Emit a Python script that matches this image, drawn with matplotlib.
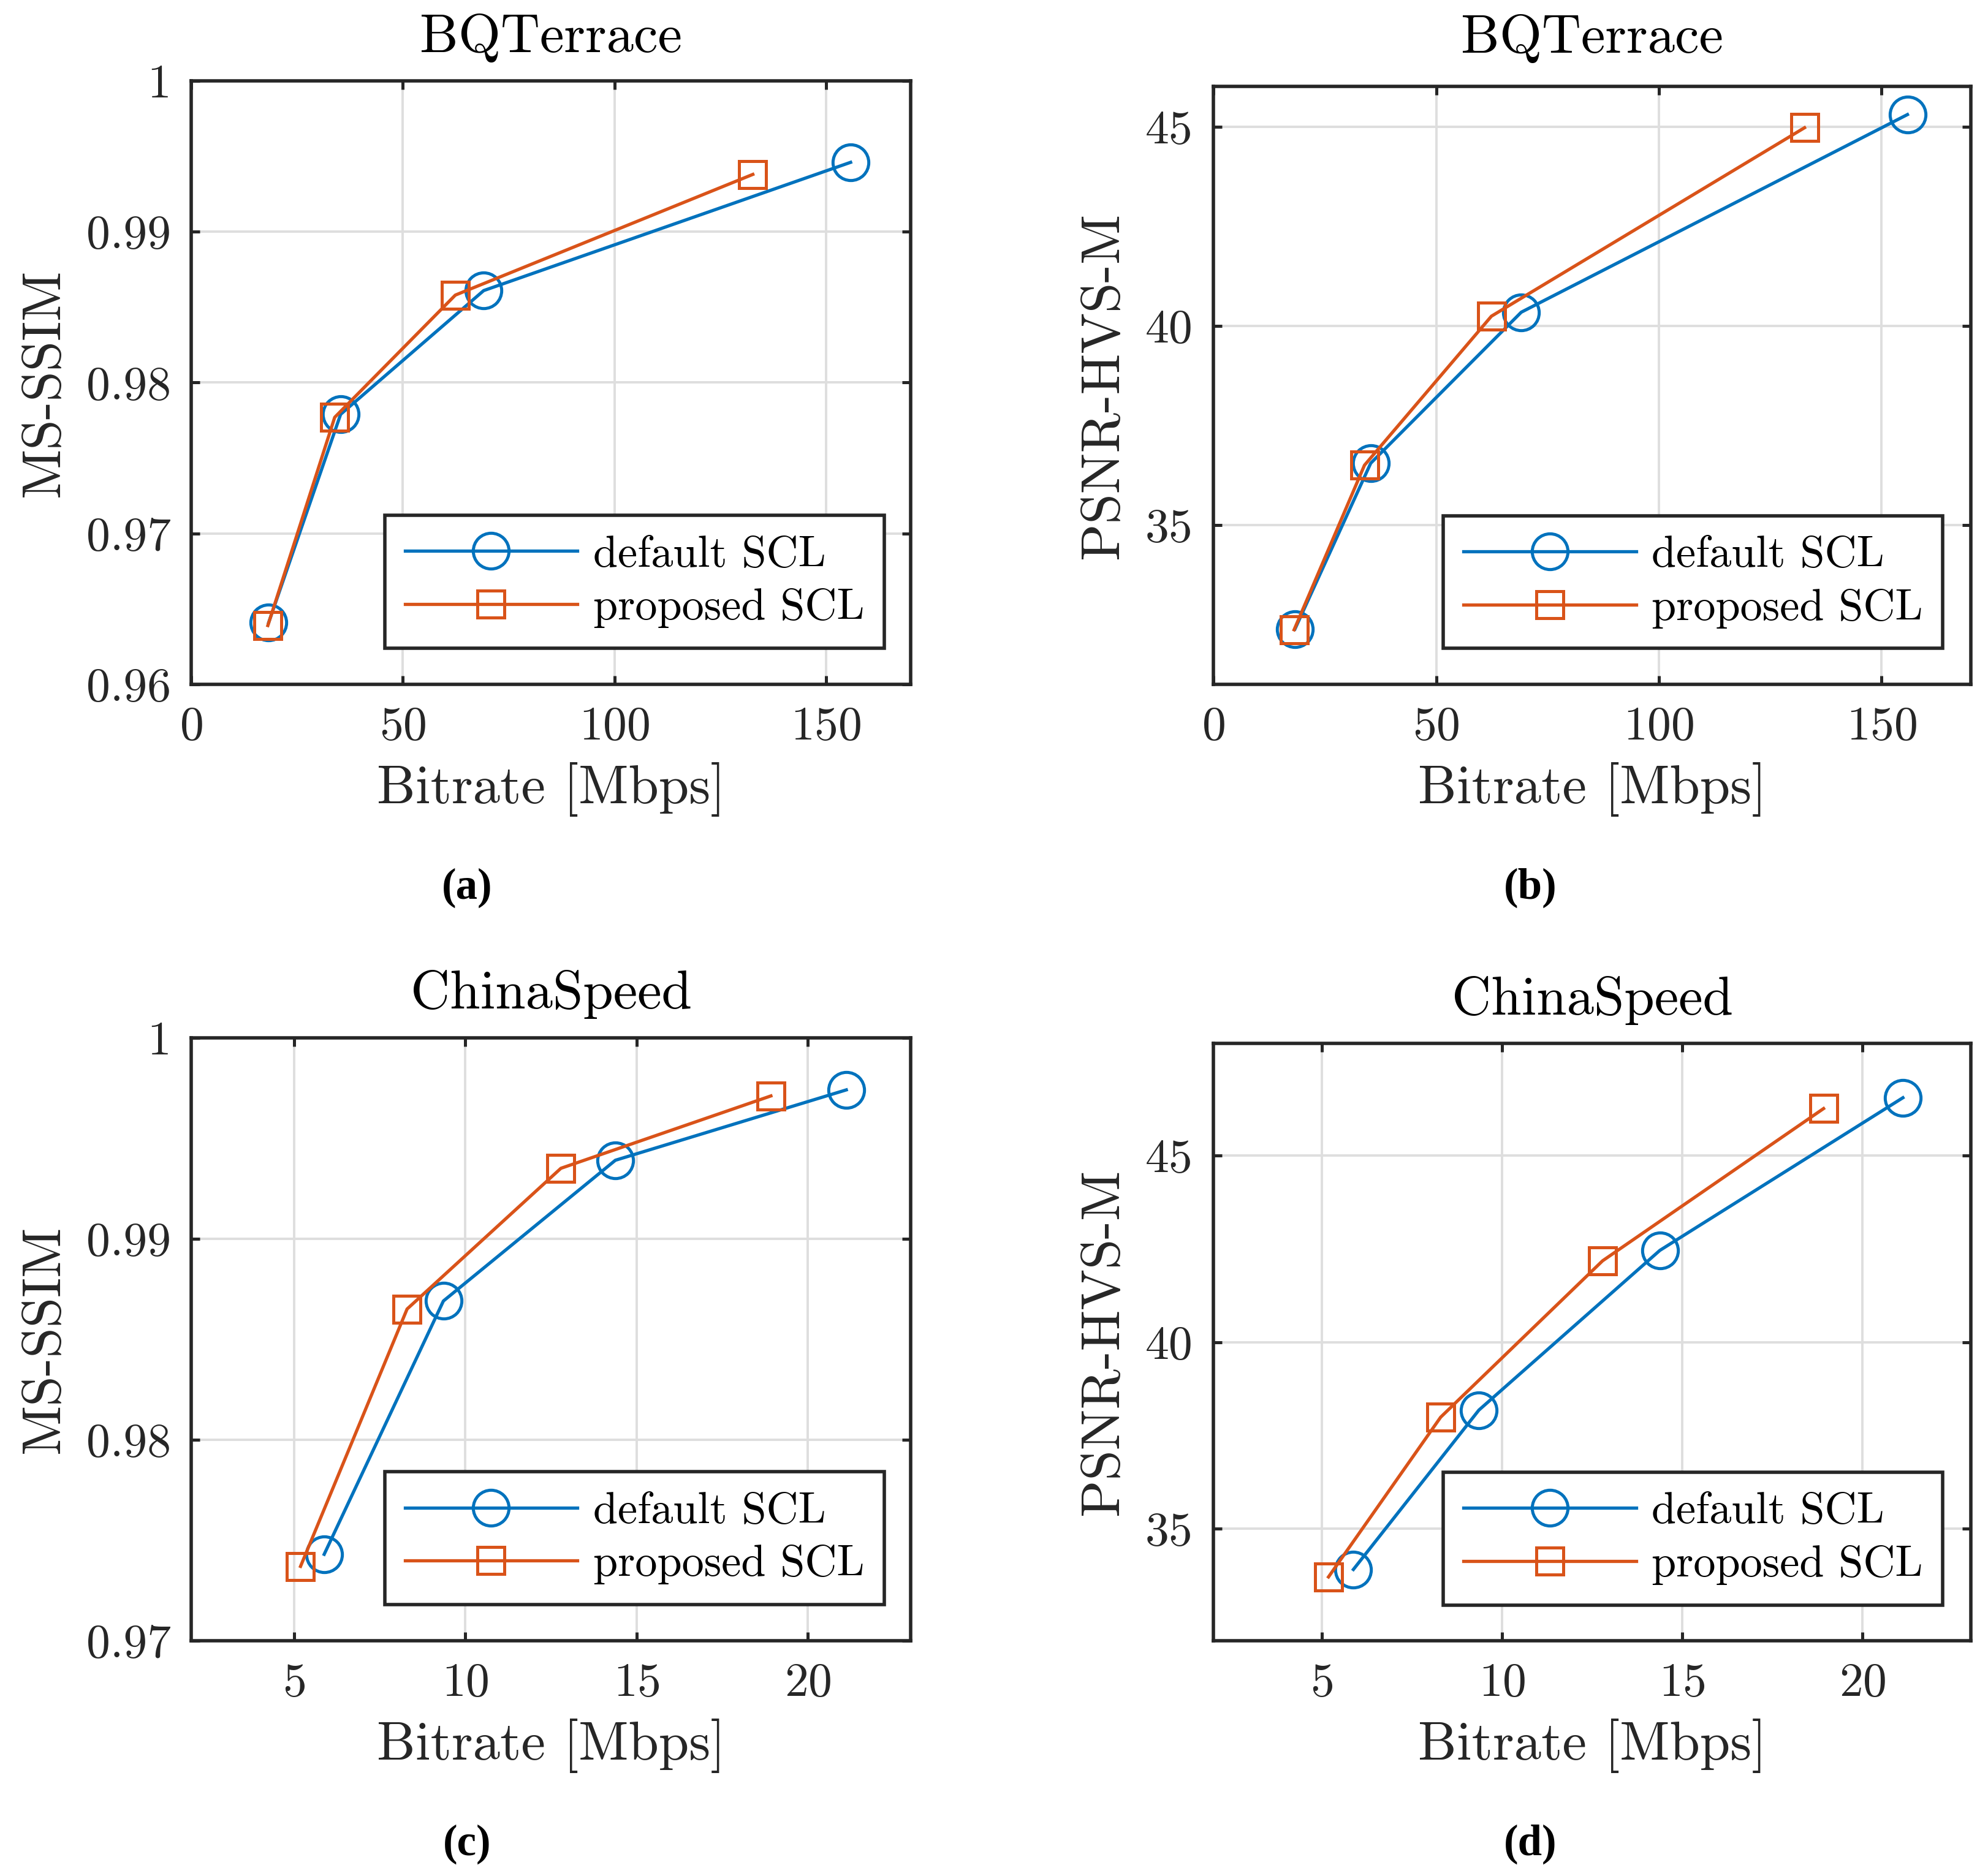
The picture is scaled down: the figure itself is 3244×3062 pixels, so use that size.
import matplotlib
matplotlib.use('Agg')
import matplotlib.pyplot as plt
from matplotlib.ticker import FuncFormatter

plt.rcParams['font.family'] = 'cmr10'
plt.rcParams['axes.formatter.use_mathtext'] = True

blue = '#0072BD'
orange = '#D95319'
dark = '#262626'

# BQTerrace
bq_rate_def = [18.3, 35.3, 69.1, 155.8]
bq_rate_prop = [18.1, 33.9, 62.4, 132.7]
bq_ssim_def = [0.9641, 0.9779, 0.9861, 0.9946]
bq_ssim_prop = [0.9639, 0.9777, 0.9858, 0.9938]
bq_psnr_def = [32.39, 36.55, 40.34, 45.30]
bq_psnr_prop = [32.37, 36.50, 40.24, 44.97]

# ChinaSpeed
cs_rate_def = [5.88, 9.36, 14.38, 21.12]
cs_rate_prop = [5.19, 8.30, 12.79, 18.92]
cs_ssim_def = [0.9743, 0.9869, 0.9939, 0.9974]
cs_ssim_prop = [0.9737, 0.9865, 0.9935, 0.9971]
cs_psnr_def = [33.91, 38.18, 42.46, 46.55]
cs_psnr_prop = [33.71, 37.99, 42.18, 46.26]

fig = plt.figure(figsize=(16.22, 15.31), dpi=200)

def make_panel(rect, title, xd, yd, xp, yp, ylabel, xlim, xticks, ylim, yticks, pad):
    ax = fig.add_axes(rect)
    ax.plot(xd, yd, '-o', color=blue, lw=1.9, ms=21, mew=1.8, mfc='none', label='default SCL')
    ax.plot(xp, yp, '-s', color=orange, lw=1.9, ms=16, mew=1.8, mfc='none', label='proposed SCL')
    ax.set_xlim(xlim)
    ax.set_ylim(ylim)
    ax.set_xticks(xticks)
    ax.set_yticks(yticks)
    ax.yaxis.set_major_formatter(FuncFormatter(lambda v, p: '%g' % round(v, 4)))
    ax.grid(True, color='#dedede', lw=1.4)
    ax.set_axisbelow(True)
    ax.tick_params(direction='in', top=True, right=True, length=5, width=1.8,
                   colors=dark, labelsize=28)
    ax.tick_params(axis='x', pad=13)
    ax.tick_params(axis='y', pad=12)
    for s in ax.spines.values():
        s.set_linewidth(2.0)
        s.set_color(dark)
    ax.set_title(title, fontsize=32, pad=pad)
    ax.set_xlabel('Bitrate [Mbps]', fontsize=32, labelpad=8, color=dark)
    ax.set_ylabel(ylabel, fontsize=32, labelpad=10, color=dark)
    leg = ax.legend(loc='lower right', bbox_to_anchor=(0.963, 0.06), borderaxespad=0,
                    fontsize=26, handlelength=3.9, handletextpad=0.35, labelspacing=0.3,
                    borderpad=0.45, numpoints=1, fancybox=False, framealpha=1)
    leg.get_frame().set_edgecolor(dark)
    leg.get_frame().set_linewidth(2.0)
    return ax

make_panel([0.0962, 0.6352, 0.3619, 0.3217], 'BQTerrace', bq_rate_def, bq_ssim_def,
           bq_rate_prop, bq_ssim_prop, 'MS-SSIM', (0, 170), [0, 50, 100, 150],
           (0.96, 1.0), [0.96, 0.97, 0.98, 0.99, 1.0], 17)
make_panel([0.6104, 0.6352, 0.3809, 0.3186], 'BQTerrace', bq_rate_def, bq_psnr_def,
           bq_rate_prop, bq_psnr_prop, 'PSNR-HVS-M', (0, 170), [0, 50, 100, 150],
           (31, 46), [35, 40, 45], 20)
make_panel([0.0962, 0.1254, 0.3619, 0.3215], 'ChinaSpeed', cs_rate_def, cs_ssim_def,
           cs_rate_prop, cs_ssim_prop, 'MS-SSIM', (2, 23), [5, 10, 15, 20],
           (0.97, 1.0), [0.97, 0.98, 0.99, 1.0], 17)
make_panel([0.6104, 0.1254, 0.3809, 0.3183], 'ChinaSpeed', cs_rate_def, cs_psnr_def,
           cs_rate_prop, cs_psnr_prop, 'PSNR-HVS-M', (2, 23), [5, 10, 15, 20],
           (32, 48), [35, 40, 45], 17)

for x, y, t in [(0.2349, 0.5268, '(a)'), (0.7697, 0.5268, '(b)'),
                (0.2349, 0.0170, '(c)'), (0.7697, 0.0170, '(d)')]:
    fig.text(x, y, t, ha='center', va='center', fontsize=25.5, fontweight='bold',
             family='Liberation Serif', color='black')

plt.savefig('out.png', dpi=200)
